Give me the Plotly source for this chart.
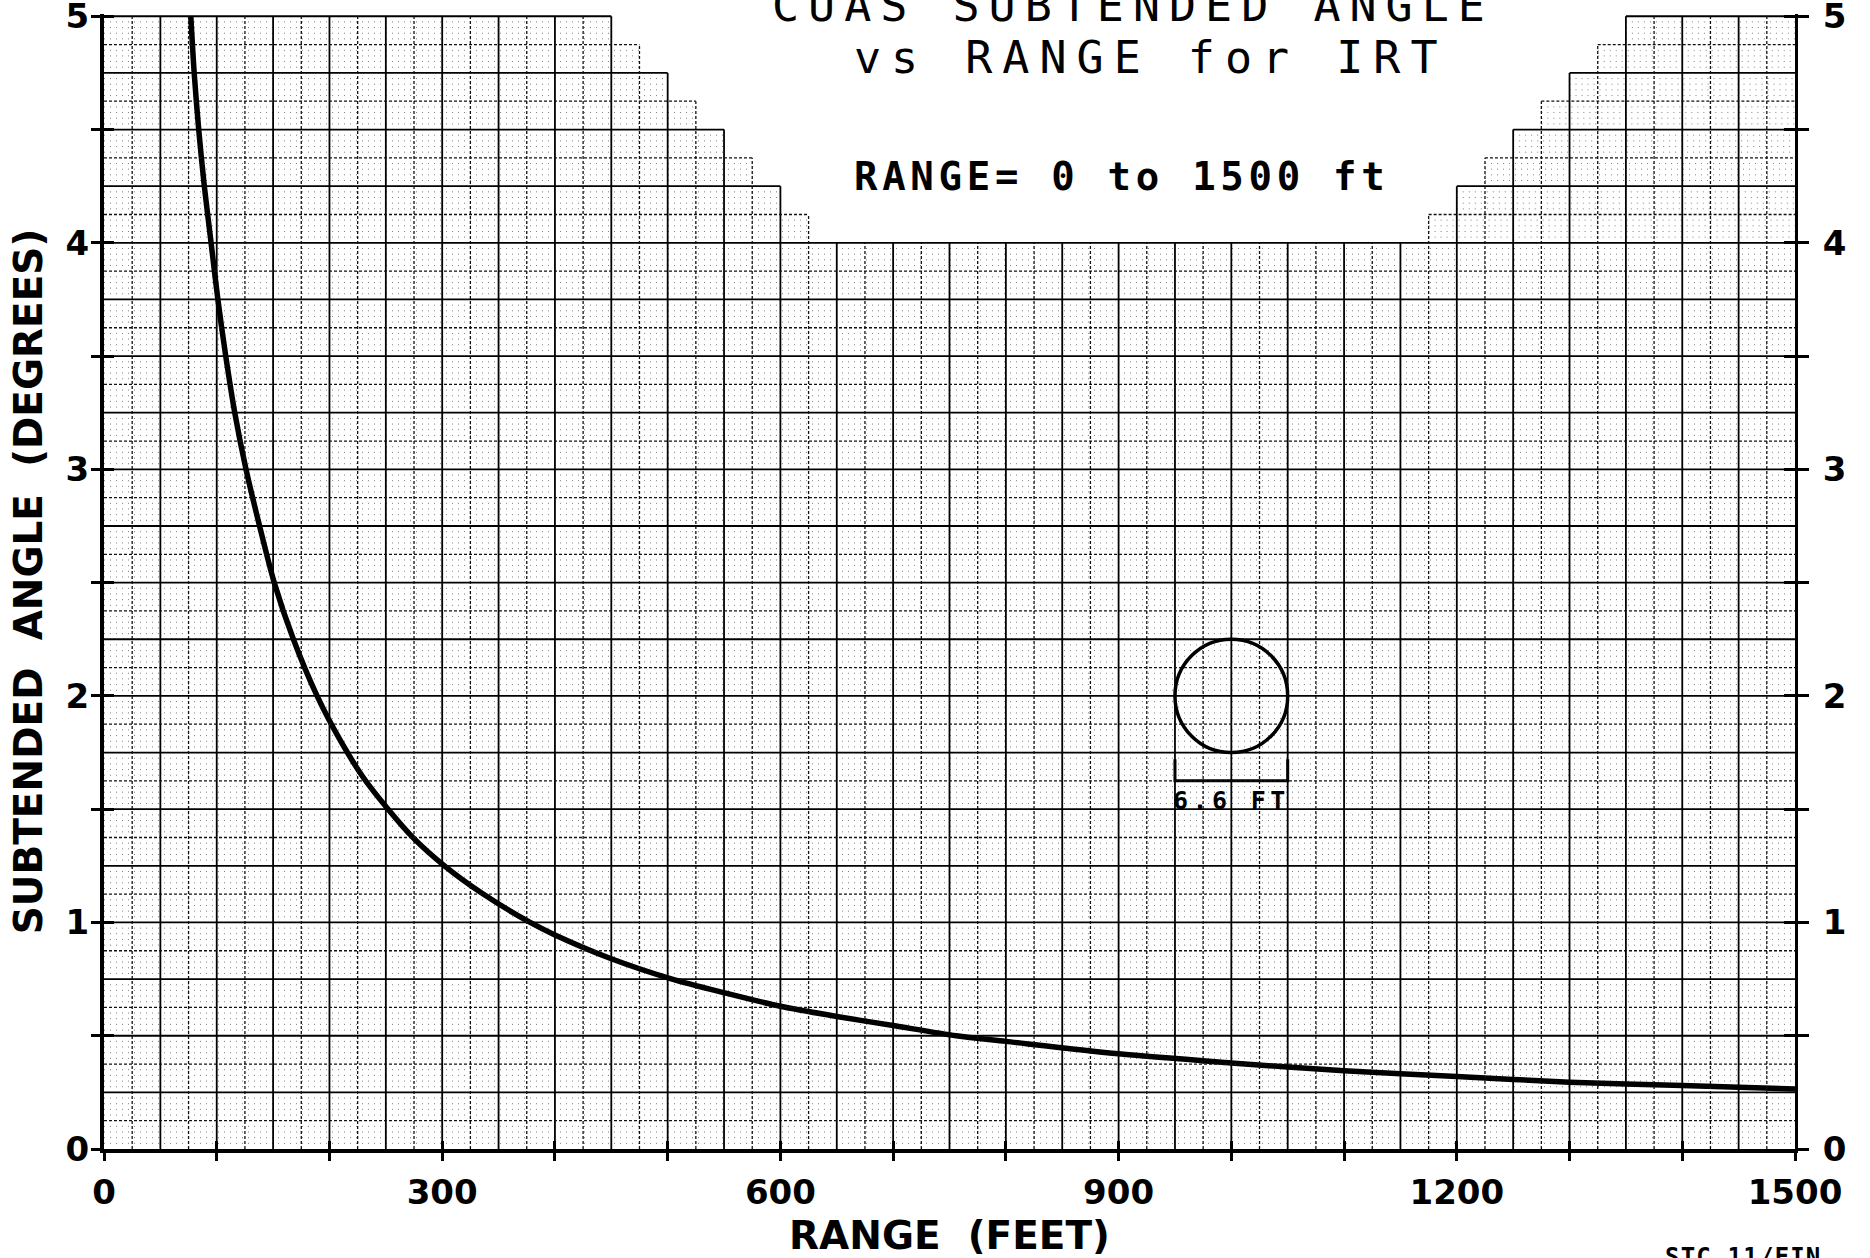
import plotly.graph_objects as go

# ---------------- data ----------------
RANGE_FT = [77, 80, 84, 89, 95, 101, 108, 116, 126, 138, 151, 168, 189, 210, 230,
            252, 275, 302, 335, 378, 400, 450, 504, 550, 600, 650, 700, 756, 800,
            900, 1000, 1100, 1200, 1300, 1400, 1500]
ANGLE_DEG = [5.0, 4.75, 4.5, 4.25, 4.0, 3.75, 3.5, 3.25, 3.0, 2.75, 2.5, 2.25, 2.0,
             1.8, 1.64, 1.5, 1.37, 1.25, 1.13, 1.0, 0.945, 0.84, 0.75, 0.69, 0.63,
             0.585, 0.545, 0.5, 0.475, 0.42, 0.38, 0.345, 0.32, 0.295, 0.28, 0.265]

X_TICKS = [0, 100, 200, 300, 400, 500, 600, 700, 800, 900, 1000, 1100, 1200, 1300, 1400, 1500]
X_LABELED = [0, 300, 600, 900, 1200, 1500]
Y_TICKS = [0, 0.5, 1, 1.5, 2, 2.5, 3, 3.5, 4, 4.5, 5]
Y_LABELED = [0, 1, 2, 3, 4, 5]

# printed graph paper: top edge of the grid, stepped under the title block
PAPER_EDGES_FT = [0, 450, 475, 500, 525, 550, 575, 600, 625, 1175, 1200, 1225,
                  1250, 1275, 1300, 1325, 1350, 1500]
PAPER_TOP_DEG = [5.0, 4.875, 4.75, 4.625, 4.5, 4.375, 4.25, 4.125, 4.0, 4.125,
                 4.25, 4.375, 4.5, 4.625, 4.75, 4.875, 5.0]
HALF_CELL_FT = 25
HALF_CELL_DEG = 0.125
DOT_ROW_DEG = 0.025

# target symbol (6.6 ft object)
TARGET_FT = 1000
TARGET_DEG = 2.0
TARGET_HALF_FT = 50
TARGET_HALF_DEG = 0.25
BRACKET_TOP_DEG = 1.72
BRACKET_BASE_DEG = 1.625
TARGET_LABEL_DEG = 1.54
TARGET_LABEL = "6.6 FT"

TITLE_1 = "CUAS SUBTENDED ANGLE"
TITLE_2 = "vs RANGE for IRT"
SUBTITLE = "RANGE= 0 to 1500 ft"
X_TITLE = "RANGE  (FEET)"
Y_TITLE = "SUBTENDED  ANGLE  (DEGREES)"
STAMP = "STC 11/FIN"

X_RANGE = [0, 1500]
Y_RANGE = [0, 5.01]

# ---------------- geometry helpers for the grid paper ----------------
EPS = 1e-9


def top_at_line(x):
    best = 0.0
    for i, t in enumerate(PAPER_TOP_DEG):
        a, b = PAPER_EDGES_FT[i], PAPER_EDGES_FT[i + 1]
        if a - EPS <= x <= b + EPS:
            best = max(best, t)
    return best


def spans_at(y):
    segs = []
    for i, t in enumerate(PAPER_TOP_DEG):
        if t >= y - EPS:
            a, b = PAPER_EDGES_FT[i], PAPER_EDGES_FT[i + 1]
            if segs and abs(segs[-1][1] - a) < EPS:
                segs[-1][1] = b
            else:
                segs.append([a, b])
    return segs


solid_x, solid_y, dash_x, dash_y, dot_x, dot_y = [], [], [], [], [], []

n_v = int(round((X_RANGE[1] - X_RANGE[0]) / HALF_CELL_FT))
for k in range(1, n_v):
    x = k * HALF_CELL_FT
    top = top_at_line(x)
    tx, ty = (solid_x, solid_y) if k % 2 == 0 else (dash_x, dash_y)
    tx += [x, x, None]
    ty += [0, top, None]

n_h = int(round(5.0 / HALF_CELL_DEG))
for j in range(1, n_h + 1):
    y = j * HALF_CELL_DEG
    tx, ty = (solid_x, solid_y) if j % 2 == 0 else (dash_x, dash_y)
    for a, b in spans_at(y):
        tx += [a, b, None]
        ty += [y, y, None]

n_d = int(round(5.0 / DOT_ROW_DEG))
for j in range(1, n_d):
    if j % 5 == 0:
        continue
    y = j * DOT_ROW_DEG
    for a, b in spans_at(y):
        dot_x += [a, b, None]
        dot_y += [y, y, None]

# ---------------- figure ----------------
W, H = 1870, 1258
ML, MR, MT, MB = 104, 75, 14, 109
PW, PH = W - ML - MR, H - MT - MB


def px(xp):
    return (xp - ML) / PW


def py(yp):
    return (H - MB - yp) / PH


fig = go.Figure()

fig.add_trace(go.Scatter(x=dot_x, y=dot_y, mode="lines", xaxis="x", yaxis="y",
                         line=dict(color="#808080", width=1, dash="1px,5px"),
                         hoverinfo="skip", showlegend=False))
fig.add_trace(go.Scatter(x=dash_x, y=dash_y, mode="lines", xaxis="x2", yaxis="y",
                         line=dict(color="#111111", width=1.3, dash="3px,2px"),
                         hoverinfo="skip", showlegend=False))
fig.add_trace(go.Scatter(x=solid_x, y=solid_y, mode="lines", xaxis="x", yaxis="y3",
                         line=dict(color="#000000", width=1.8),
                         hoverinfo="skip", showlegend=False))
fig.add_trace(go.Scatter(
    x=[TARGET_FT - TARGET_HALF_FT, TARGET_FT - TARGET_HALF_FT,
       TARGET_FT + TARGET_HALF_FT, TARGET_FT + TARGET_HALF_FT],
    y=[BRACKET_TOP_DEG, BRACKET_BASE_DEG, BRACKET_BASE_DEG, BRACKET_TOP_DEG],
    mode="lines", xaxis="x", yaxis="y2", line=dict(color="black", width=3),
    hoverinfo="skip", showlegend=False))
fig.add_trace(go.Scatter(x=RANGE_FT, y=ANGLE_DEG, mode="lines", xaxis="x", yaxis="y4",
                         name="Subtended angle",
                         line=dict(color="black", width=5.5, shape="spline", smoothing=0.8),
                         showlegend=False))

fig.add_shape(type="circle", xref="x", yref="y",
              x0=TARGET_FT - TARGET_HALF_FT, x1=TARGET_FT + TARGET_HALF_FT,
              y0=TARGET_DEG - TARGET_HALF_DEG, y1=TARGET_DEG + TARGET_HALF_DEG,
              line=dict(color="black", width=3.5), layer="above")

TICK_FONT = dict(family="DejaVu Sans", size=34, color="black", weight="bold")
TITLE_FONT = dict(family="DejaVu Sans", size=39, color="black", weight="bold")

x_text = [str(v) if v in X_LABELED else "" for v in X_TICKS]
y_text = [str(int(v)) if v in Y_LABELED else "" for v in Y_TICKS]

common_x = dict(range=X_RANGE, showgrid=False, zeroline=False, fixedrange=True)
common_y = dict(range=Y_RANGE, showgrid=False, zeroline=False, fixedrange=True)

fig.update_layout(
    width=W, height=H,
    margin=dict(l=ML, r=MR, t=MT, b=MB, pad=0, autoexpand=False),
    paper_bgcolor="white", plot_bgcolor="white",
    showlegend=False,
    xaxis=dict(**common_x, automargin=True, showline=True, linewidth=4, linecolor="black",
               tickmode="array", tickvals=X_TICKS, ticktext=x_text,
               ticks="outside", ticklen=8, tickwidth=3, tickcolor="black",
               tickfont=TICK_FONT, ticklabelstandoff=2, ticklabeloverflow="allow",
               title=dict(text=X_TITLE, font=TITLE_FONT, standoff=14)),
    xaxis2=dict(**common_x, automargin=False, overlaying="x", anchor="y", side="bottom",
                showline=False, tickmode="array", tickvals=X_TICKS,
                ticks="inside", ticklen=8, tickwidth=3, tickcolor="black",
                showticklabels=False),
    yaxis=dict(**common_y, automargin=False, showline=True, linewidth=4, linecolor="black",
               tickmode="array", tickvals=Y_TICKS, ticktext=y_text,
               ticks="outside", ticklen=9, tickwidth=3, tickcolor="black",
               tickfont=TICK_FONT, ticklabelstandoff=-5, ticklabeloverflow="allow",
               title=dict(text=Y_TITLE, font=TITLE_FONT, standoff=12)),
    yaxis2=dict(**common_y, automargin=False, overlaying="y", anchor="x", side="right",
                showline=True, linewidth=3, linecolor="black",
                tickmode="array", tickvals=Y_TICKS, ticktext=y_text,
                ticks="outside", ticklen=11, tickwidth=3, tickcolor="black",
                tickfont=TICK_FONT, ticklabelstandoff=7, ticklabeloverflow="allow"),
    yaxis3=dict(**common_y, automargin=False, overlaying="y", anchor="x", side="left",
                showline=False, tickmode="array", tickvals=Y_TICKS,
                ticks="inside", ticklen=10, tickwidth=3, tickcolor="black",
                showticklabels=False),
    yaxis4=dict(**common_y, automargin=False, overlaying="y", anchor="x", side="right",
                showline=False, tickmode="array", tickvals=Y_TICKS,
                ticks="inside", ticklen=11, tickwidth=3, tickcolor="black",
                showticklabels=False),
)

MONO = "DejaVu Sans Mono"


def spaced(text, ls):
    return '<span style="letter-spacing:%spx">%s</span>' % (ls, text)


fig.add_annotation(text=spaced(TITLE_1, 9), xref="paper", yref="paper",
                   x=px(1133), y=py(5), xanchor="center", yanchor="middle",
                   showarrow=False, font=dict(family=MONO, size=45, color="black"))
fig.add_annotation(text=spaced(TITLE_2, 10), xref="paper", yref="paper",
                   x=px(1150), y=py(57), xanchor="center", yanchor="middle",
                   showarrow=False, font=dict(family=MONO, size=45, color="black"))
fig.add_annotation(text=spaced(SUBTITLE, 4.7), xref="paper", yref="paper",
                   x=px(1121), y=py(176.5), xanchor="center", yanchor="middle",
                   showarrow=False,
                   font=dict(family=MONO, size=39, color="black", weight="bold"))
fig.add_annotation(text=spaced(TARGET_LABEL, 4.4), xref="x", yref="y",
                   x=TARGET_FT, y=TARGET_LABEL_DEG, xanchor="center", yanchor="middle",
                   showarrow=False,
                   font=dict(family=MONO, size=25, color="black", weight="bold"))
fig.add_annotation(text=spaced(STAMP, 1.2), xref="paper", yref="paper",
                   x=px(1743), y=py(1256.8), xanchor="center", yanchor="middle",
                   showarrow=False,
                   font=dict(family=MONO, size=24, color="black", weight="bold"))

fig.write_html("out.html", config={"displayModeBar": False},
               post_script="document.body.style.margin='0';document.body.style.overflow='hidden';")
